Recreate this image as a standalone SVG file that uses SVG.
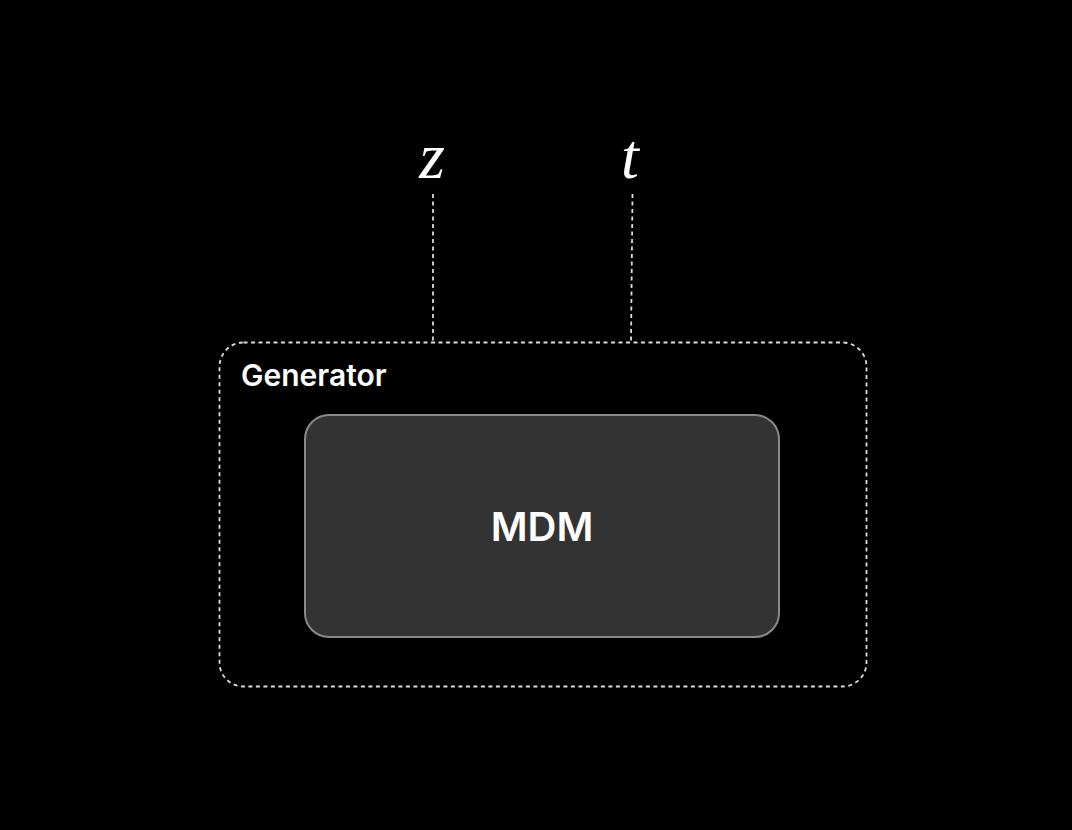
<svg xmlns="http://www.w3.org/2000/svg" width="1072" height="830" viewBox="0 0 1072 830">
<style>
.dash{fill:none;stroke:#dcdcdc;stroke-width:1.8;stroke-dasharray:4 3.5}
.math{font-family:"Liberation Serif","DejaVu Serif",serif;font-style:italic;fill:#ffffff;text-anchor:middle}
.lbl{font-family:Inter,"Liberation Sans",sans-serif;font-weight:600;fill:#ffffff}
</style>
<rect x="0" y="0" width="1072" height="830" fill="#000000"/>
<g id="connectors">
<line class="dash" x1="433" y1="194" x2="433" y2="342"/>
<line class="dash" x1="632.5" y1="194" x2="631" y2="342"/>
</g>
<g id="z">
<text class="math" x="432" y="178" font-size="66">z</text>
</g>
<g id="t">
<text class="math" x="630" y="178" font-size="64">t</text>
</g>
<g id="generator">
<rect class="dash" x="219.5" y="342.5" width="647" height="344" rx="24"/>
<text class="lbl" x="241" y="386" font-size="30">Generator</text>
</g>
<g id="mdm">
<rect x="305" y="415" width="474" height="222" rx="24" fill="#333333" stroke="#8a8a8a" stroke-width="2"/>
<text class="lbl" x="542" y="541" font-size="40" text-anchor="middle">MDM</text>
</g>
</svg>
